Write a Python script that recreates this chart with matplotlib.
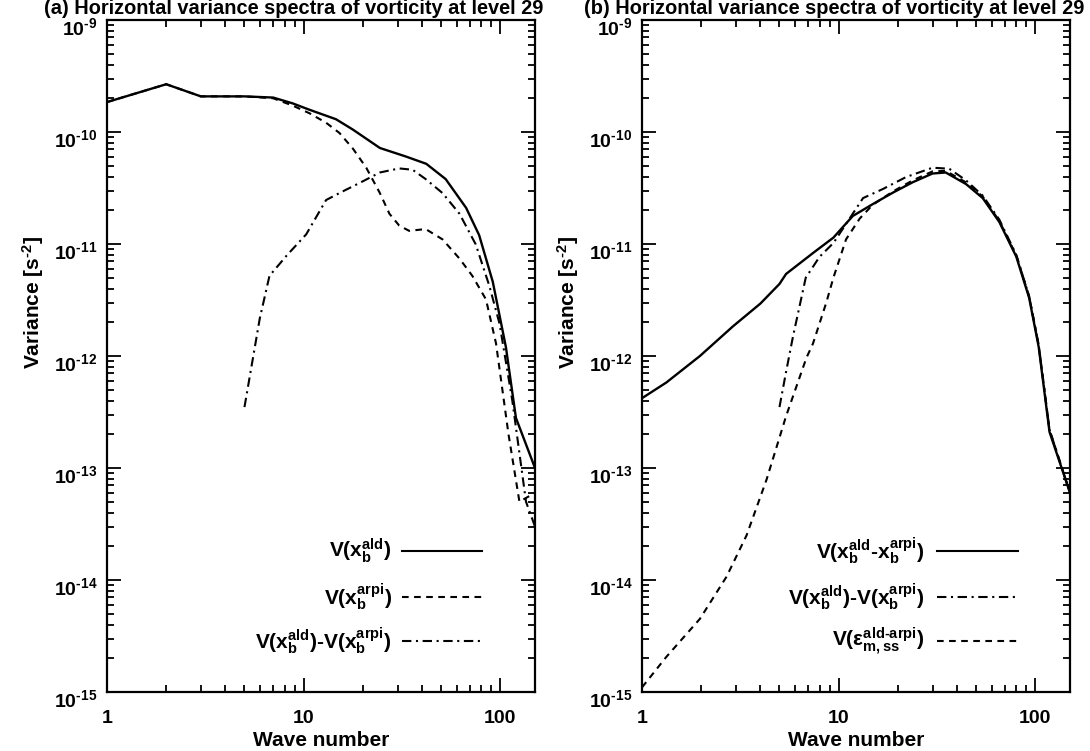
import matplotlib
matplotlib.use("Agg")
import matplotlib.pyplot as plt
import matplotlib.transforms as mtransforms
from matplotlib.ticker import LogLocator, NullFormatter, FuncFormatter, FixedLocator
import math

plt.rcParams['font.family'] = ['Liberation Sans', 'DejaVu Sans']
plt.rcParams['font.weight'] = 'bold'
plt.rcParams['mathtext.fontset'] = 'custom'
plt.rcParams['mathtext.rm'] = 'Liberation Sans:bold'
plt.rcParams['mathtext.it'] = 'Liberation Sans:bold'
plt.rcParams['mathtext.bf'] = 'Liberation Sans:bold'
plt.rcParams['mathtext.default'] = 'rm'

# ---- panel (a): background spectra ----
wn_a_ald = [1, 2, 3, 5, 7, 8.8, 10.7, 14.6, 17.8, 24.4, 33, 42, 52.7, 67, 78,
            91.5, 106.7, 120, 150]
var_a_ald = [1.85e-10, 2.67e-10, 2.08e-10, 2.08e-10, 2.03e-10, 1.8e-10, 1.58e-10,
             1.3e-10, 1.05e-10, 7.2e-11, 6.05e-11, 5.2e-11, 3.8e-11, 2.1e-11,
             1.2e-11, 4.6e-12, 1.2e-12, 2.8e-13, 1.0e-13]

wn_a_arpi = [1, 2, 3, 5, 7, 8.8, 10.7, 13, 15.2, 17.8, 20.8, 24.4, 27.3, 30.6,
             34.4, 41.7, 50.8, 62, 72, 84.5, 95, 110, 125, 150]
var_a_arpi = [1.85e-10, 2.67e-10, 2.08e-10, 2.08e-10, 2.0e-10, 1.72e-10, 1.47e-10,
              1.21e-10, 9.8e-11, 7.1e-11, 4.8e-11, 2.85e-11, 1.86e-11, 1.46e-11,
              1.31e-11, 1.36e-11, 1.1e-11, 7.4e-12, 5.2e-12, 3.2e-12, 1.3e-12,
              2.0e-13, 5.0e-14, 6.0e-14]

wn_a_diff = [5, 5.98, 6.7, 8.2, 10.3, 13, 15.8, 19.2, 24.4, 30.6, 35.8, 41.7,
             50.8, 62, 75, 88, 99, 115, 135, 150]
var_a_diff = [3.5e-13, 2.16e-12, 5.2e-12, 7.9e-12, 1.22e-11, 2.47e-11, 2.95e-11,
              3.5e-11, 4.35e-11, 4.73e-11, 4.6e-11, 3.8e-11, 2.85e-11, 1.86e-11,
              9.9e-12, 4.2e-12, 1.95e-12, 4.0e-13, 5.0e-14, 3.0e-14]

# ---- panel (b): difference spectra ----
wn_b_dx = [1, 1.33, 1.97, 2.9, 4.0, 5.0, 5.4, 7.4, 9.4, 11.8, 14.9, 18.9, 23.8,
           30, 35, 44.4, 54, 65.6, 80, 93, 104, 118, 150]
var_b_dx = [4.2e-13, 5.8e-13, 1.0e-12, 1.84e-12, 2.94e-12, 4.4e-12, 5.4e-12,
            8.3e-12, 1.14e-11, 1.78e-11, 2.27e-11, 2.88e-11, 3.56e-11, 4.26e-11,
            4.35e-11, 3.43e-11, 2.57e-11, 1.57e-11, 7.7e-12, 3.3e-12, 1.2e-12,
            2.1e-13, 6.0e-14]

wn_b_diff = [5, 5.4, 5.86, 6.8, 8.0, 9.4, 10.9, 13.3, 16.8, 22, 30, 36.5, 44.4,
             54, 65.6, 80, 93, 104, 118, 150]
var_b_diff = [3.5e-13, 7.2e-13, 1.5e-12, 5.0e-12, 7.7e-12, 1.02e-11, 1.51e-11,
              2.57e-11, 3.1e-11, 3.96e-11, 4.8e-11, 4.7e-11, 3.7e-11, 2.7e-11,
              1.65e-11, 8.0e-12, 3.4e-12, 1.25e-12, 2.2e-13, 6.0e-14]

wn_b_eps = [1, 1.33, 1.97, 2.69, 3.4, 4.3, 5.4, 6.85, 7.4, 8.65, 9.4, 10.9, 12.8,
            14.9, 18.9, 23.8, 30, 35, 44.4, 54, 65.6, 80, 93, 104, 118, 150]
var_b_eps = [1.1e-15, 2.06e-15, 4.5e-15, 1.07e-14, 2.5e-14, 7.9e-14, 2.9e-13,
             9.6e-13, 1.29e-12, 3.0e-12, 5.0e-12, 1.1e-11, 1.69e-11, 2.24e-11,
             2.95e-11, 3.7e-11, 4.45e-11, 4.5e-11, 3.55e-11, 2.65e-11, 1.6e-11,
             7.9e-12, 3.4e-12, 1.25e-12, 2.2e-13, 6.0e-14]

titles = ["(a) Horizontal variance spectra of vorticity at level 29",
          "(b) Horizontal variance spectra of vorticity at level 29"]
xticks = [1, 10, 100]
xticklabels = ["1", "10", "100"]
yticks = [1e-15, 1e-14, 1e-13, 1e-12, 1e-11, 1e-10, 1e-9]

SOLID = '-'
DASH = (0, (3.2, 2.6))
DASHDOT = (0, (4.5, 2.2, 1.0, 2.2))

labels_a = [r"V(x$_{b}^{ald}$)", r"V(x$_{b}^{arpi}$)",
            r"V(x$_{b}^{ald}$)-V(x$_{b}^{arpi}$)"]
labels_b = [r"V(x$_{b}^{ald}$-x$_{b}^{arpi}$)",
            r"V(x$_{b}^{ald}$)-V(x$_{b}^{arpi}$)",
            r"V($\epsilon_{m,ss}^{ald\text{-}arpi}$)"]

W, H = 1090, 751
fig = plt.figure(figsize=(W / 100, H / 100), dpi=100)

top_px, bot_px = 20, 692
ax_w = 428
axes_left = [107, 642]
ax_h = bot_px - top_px


def pow10_label(v, pos):
    e = int(round(math.log10(v)))
    return r"10$^{\text{-}%d}$" % (-e) if e < 0 else r"10$^{%d}$" % e


def style_axes(ax):
    ax.set_xscale('log')
    ax.set_yscale('log')
    ax.set_xlim(1, 150)
    ax.set_ylim(1e-15, 1e-9)
    ax.set_xticks(xticks)
    ax.set_xticklabels(xticklabels)
    ax.xaxis.set_minor_locator(LogLocator(base=10, subs=range(2, 10), numticks=20))
    ax.xaxis.set_minor_formatter(NullFormatter())
    ax.yaxis.set_major_locator(FixedLocator(yticks))
    ax.yaxis.set_major_formatter(FuncFormatter(pow10_label))
    ax.yaxis.set_minor_locator(LogLocator(base=10, subs=range(2, 10), numticks=20))
    ax.yaxis.set_minor_formatter(NullFormatter())
    ax.tick_params(which='both', direction='in', top=True, right=True,
                   labelsize=14, width=1.3)
    ax.tick_params(which='major', length=10)
    ax.tick_params(axis='x', which='major', pad=13)
    ax.tick_params(axis='y', which='major', pad=7)
    ax.tick_params(which='minor', length=5)
    for s in ax.spines.values():
        s.set_linewidth(1.6)
    ax.set_xlabel("Wave number", fontsize=15, fontweight='bold', labelpad=3)
    ax.set_ylabel(r"Variance [s$^{\text{-}2}$]", fontsize=15, fontweight='bold')
    ax.yaxis.set_label_coords(-0.142, (bot_px - 302) / ax_h)


def legend_rows(ax, labels, styles, text_x, line_x0, line_x1, rows_y):
    for lab, ls, y in zip(labels, styles, rows_y):
        ax.text(text_x, y, lab, transform=ax.transAxes, ha='right', va='center',
                fontsize=15, fontweight='bold')
        ax.plot([line_x0, line_x1], [y, y], transform=ax.transAxes, color='black',
                lw=1.5, linestyle=ls, clip_on=False)


axs = []
for i, lp in enumerate(axes_left):
    ax = fig.add_axes([lp / W, (H - bot_px) / H, ax_w / W, ax_h / H])
    style_axes(ax)
    axs.append(ax)

rows = [(bot_px - 551) / ax_h, (bot_px - 597) / ax_h, (bot_px - 641) / ax_h]

ax = axs[0]
ax.plot(wn_a_ald, var_a_ald, color='black', lw=1.7, linestyle=SOLID)
ax.plot(wn_a_arpi, var_a_arpi, color='black', lw=1.5, linestyle=DASH)
ax.plot(wn_a_diff, var_a_diff, color='black', lw=1.5, linestyle=DASHDOT)
legend_rows(ax, labels_a, [SOLID, DASH, DASHDOT], 0.665, 0.69, 0.877, rows)

ax = axs[1]
ax.plot(wn_b_dx, var_b_dx, color='black', lw=1.7, linestyle=SOLID)
ax.plot(wn_b_diff, var_b_diff, color='black', lw=1.5, linestyle=DASHDOT)
ax.plot(wn_b_eps, var_b_eps, color='black', lw=1.5, linestyle=DASH)
legend_rows(ax, labels_b, [SOLID, DASHDOT, DASH], 0.66, 0.69, 0.879, rows)

fig.text(44 / W, 1 - 9 / H, titles[0], ha='left', va='center', fontsize=14.4,
         fontweight='bold')
fig.text(584 / W, 1 - 9 / H, titles[1], ha='left', va='center', fontsize=14.4,
         fontweight='bold')

# y tick labels sit with the exponent level with the tick, the base below it
fig.canvas.draw()
shift = mtransforms.ScaledTranslation(0, -6 / 100, fig.dpi_scale_trans)
for ax in axs:
    for lab in ax.yaxis.get_majorticklabels():
        lab.set_transform(lab.get_transform() + shift)

fig.savefig("out.png", dpi=100)
